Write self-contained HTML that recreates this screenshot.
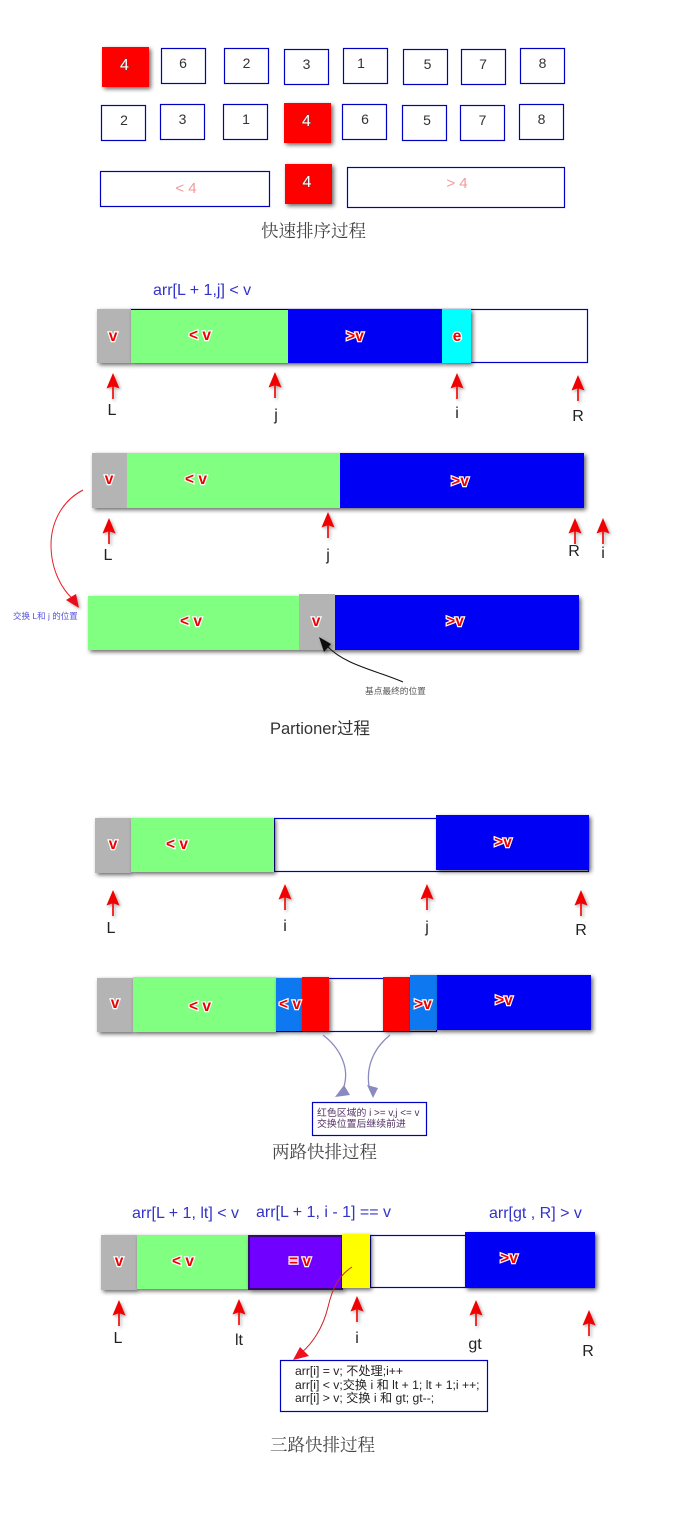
<!DOCTYPE html>
<html><head><meta charset="utf-8">
<style>
html,body{margin:0;padding:0;background:#fff}
svg{display:block}
text{font-family:"Liberation Sans","Noto Sans CJK SC",sans-serif}
.n{font-size:14px;fill:#333;text-anchor:middle}
.w{font-size:16px;fill:#fff;stroke:#8a3030;stroke-width:1.400px;paint-order:stroke;text-anchor:middle}
.s{font-size:15px;fill:#f09a9a;text-anchor:middle}
.t{font-family:"Noto Serif CJK SC","Liberation Serif",serif;font-size:17.500px;fill:#444}
.f{font-size:16px;fill:#3333cc}
.l{font-size:16px;fill:#222;text-anchor:middle}
.o{font-size:15.500px;fill:#e00;stroke:#fff;stroke-width:2.400px;paint-order:stroke;text-anchor:middle;font-weight:bold}
.b{fill:#fff;stroke:#0000c0;stroke-width:1.200}
.c{font-size:12.200px;fill:#222}
</style></head>
<body>
<svg width="675" height="1513" viewBox="0 0 675 1513" xmlns="http://www.w3.org/2000/svg">
<defs>
<filter id="sh" x="-20%" y="-20%" width="150%" height="150%"><feDropShadow dx="2" dy="2" stdDeviation="2" flood-color="#000" flood-opacity=".6"/></filter>
<filter id="as" x="-100%" y="-50%" width="300%" height="200%"><feDropShadow dx="1.500" dy="1.500" stdDeviation="1.500" flood-color="#000" flood-opacity=".35"/></filter>
<g id="up" filter="url(#as)"><path d="M0 0L6.500 15.500L.8 13.500L.8 26L-.8 26L-.8 13.500L-6.500 15.500Z" fill="#f00000"/></g>
</defs>

<!-- Quick sort -->
<rect x="102" y="47" width="47" height="40" fill="#f00" filter="url(#sh)"/><text class="w" x="124.500" y="70">4</text>
<rect class="b" x="161.500" y="48.500" width="44" height="35"/><text class="n" x="183" y="68">6</text>
<rect class="b" x="224.500" y="48.500" width="44" height="35"/><text class="n" x="246.500" y="68">2</text>
<rect class="b" x="284.500" y="49.500" width="44" height="35"/><text class="n" x="306.500" y="69">3</text>
<rect class="b" x="343.500" y="48.500" width="44" height="35"/><text class="n" x="361" y="68">1</text>
<rect class="b" x="403.500" y="49.500" width="44" height="35"/><text class="n" x="427.500" y="69">5</text>
<rect class="b" x="461.500" y="49.500" width="44" height="35"/><text class="n" x="483" y="69">7</text>
<rect class="b" x="520.500" y="48.500" width="44" height="35"/><text class="n" x="542.500" y="68">8</text>

<rect class="b" x="101.500" y="105.500" width="44" height="35"/><text class="n" x="124" y="125">2</text>
<rect class="b" x="160.500" y="104.500" width="44" height="35"/><text class="n" x="182.500" y="124">3</text>
<rect class="b" x="223.500" y="104.500" width="44" height="35"/><text class="n" x="246" y="124">1</text>
<rect x="284" y="103" width="47" height="40" fill="#f00" filter="url(#sh)"/><text class="w" x="306.500" y="126">4</text>
<rect class="b" x="342.500" y="104.500" width="44" height="35"/><text class="n" x="365" y="124">6</text>
<rect class="b" x="402.500" y="105.500" width="44" height="35"/><text class="n" x="427" y="125">5</text>
<rect class="b" x="460.500" y="105.500" width="44" height="35"/><text class="n" x="482.500" y="125">7</text>
<rect class="b" x="519.500" y="104.500" width="44" height="35"/><text class="n" x="541.500" y="124">8</text>

<rect class="b" x="100.500" y="171.500" width="169" height="35"/><text class="s" x="186" y="193">&lt; 4</text>
<rect x="285" y="164" width="47" height="40" fill="#f00" filter="url(#sh)"/><text class="w" x="307" y="187">4</text>
<rect class="b" x="347.500" y="167.500" width="217" height="40"/><text class="s" x="457" y="188">&gt; 4</text>
<text class="t" x="261" y="237">快速排序过程</text>

<!-- Partition 1 -->
<text class="f" x="153" y="295">arr[L + 1,j] &lt; v</text>
<rect class="b" x="130.500" y="309.500" width="457" height="53"/>
<rect x="97" y="309" width="34" height="54" fill="#b4b4b4" filter="url(#sh)"/>
<rect x="131" y="309" width="311" height="54" fill="#000" filter="url(#sh)"/>
<rect x="131" y="310" width="157" height="53" fill="#80ff80"/>
<rect x="288" y="309" width="154" height="54" fill="#0000f4"/>
<rect x="442" y="309" width="29" height="54" fill="#00ffff" filter="url(#sh)"/>
<text class="o" x="113" y="341">v</text><text class="o" x="200" y="340">&lt; v</text><text class="o" x="355" y="341">&gt;v</text><text class="o" x="457" y="341">e</text>
<use href="#up" x="113" y="373"/><use href="#up" x="275" y="372"/><use href="#up" x="457" y="373"/><use href="#up" x="578" y="375"/>
<text class="l" x="112" y="415">L</text><text class="l" x="276" y="420">j</text><text class="l" x="457" y="418">i</text><text class="l" x="578" y="421">R</text>

<!-- Partition 2 -->
<rect x="92" y="453" width="492" height="55" fill="#000" filter="url(#sh)"/>
<rect x="92" y="453" width="35" height="55" fill="#b4b4b4"/>
<rect x="127" y="453" width="213" height="55" fill="#80ff80"/>
<rect x="340" y="453" width="244" height="55" fill="#0000f4"/>
<text class="o" x="109" y="484">v</text><text class="o" x="196" y="484">&lt; v</text><text class="o" x="460" y="486">&gt;v</text>
<use href="#up" x="109" y="518"/><use href="#up" x="328" y="512"/><use href="#up" x="575" y="518"/><use href="#up" x="603" y="518"/>
<text class="l" x="108" y="560">L</text><text class="l" x="328" y="560">j</text><text class="l" x="574" y="556">R</text><text class="l" x="603" y="558">i</text>

<!-- Partition 3 -->
<rect x="88" y="596" width="491" height="54" fill="#000" filter="url(#sh)"/>
<rect x="88" y="596" width="211" height="54" fill="#80ff80"/>
<rect x="299" y="594" width="36" height="56" fill="#b4b4b4"/>
<rect x="335" y="595" width="244" height="55" fill="#0000f4"/>
<text class="o" x="191" y="626">&lt; v</text><text class="o" x="316" y="626">v</text><text class="o" x="455" y="626">&gt;v</text>

<path d="M83 490C60 502 51 525 51 545C51 570 62 590 74 600" fill="none" stroke="#e8202a" stroke-width="1"/>
<path d="M79 608L66 600L76 594Z" fill="#e8101a" filter="url(#as)"/>
<text x="13" y="619" style="font-size:8.500px;fill:#5555dd">交换 L和 j 的位置</text>
<path d="M403 682C375 670 345 665 327 646" fill="none" stroke="#111" stroke-width="1"/>
<path d="M319 637L331 644L324 652Z" fill="#111" filter="url(#as)"/>
<text x="365" y="694" style="font-size:8.700px;fill:#555">基点最终的位置</text>
<text x="270" y="734" style="font-size:16.500px;fill:#333">Partioner过程</text>

<!-- Two-way 1 -->
<rect class="b" x="274.500" y="818.500" width="314" height="53"/>
<rect x="95" y="818" width="36" height="55" fill="#b4b4b4" filter="url(#sh)"/>
<rect x="131" y="818" width="143" height="54" fill="#80ff80" filter="url(#sh)"/>
<rect x="436" y="815" width="153" height="55" fill="#0000f4" filter="url(#sh)"/>
<text class="o" x="113" y="849">v</text><text class="o" x="177" y="849">&lt; v</text><text class="o" x="503" y="847">&gt;v</text>
<use href="#up" x="113" y="890"/><use href="#up" x="285" y="884"/><use href="#up" x="427" y="884"/><use href="#up" x="581" y="890"/>
<text class="l" x="111" y="933">L</text><text class="l" x="285" y="931">i</text><text class="l" x="427" y="932">j</text><text class="l" x="581" y="935">R</text>

<!-- Two-way 2 -->
<rect class="b" x="276.500" y="978.500" width="160" height="53"/>
<rect x="97" y="978" width="36" height="54" fill="#b4b4b4" filter="url(#sh)"/>
<rect x="133" y="977" width="143" height="55" fill="#80ff80" filter="url(#sh)"/>
<rect x="276" y="978" width="26" height="53" fill="#0a78f0" filter="url(#sh)"/>
<rect x="302" y="977" width="27" height="54" fill="#f00" filter="url(#sh)"/>
<rect x="383" y="977" width="27" height="54" fill="#f00" filter="url(#sh)"/>
<rect x="410" y="975" width="27" height="55" fill="#0a78f0" filter="url(#sh)"/>
<rect x="437" y="975" width="154" height="55" fill="#0000f4" filter="url(#sh)"/>
<text class="o" x="115" y="1008">v</text><text class="o" x="200" y="1011">&lt; v</text><text class="o" x="290" y="1009">&lt; v</text><text class="o" x="423" y="1009">&gt;v</text><text class="o" x="504" y="1005">&gt;v</text>
<path d="M323 1035C340 1048 348 1066 345 1082C344 1088 343 1091 342 1094" fill="none" stroke="#8a8abe" stroke-width="1.300"/>
<path d="M335 1097L350 1095L344 1085Z" fill="#8a8abe"/>
<path d="M390 1035C374 1048 366 1066 369 1086" fill="none" stroke="#8a8abe" stroke-width="1.300"/>
<path d="M373 1098L367 1085L378 1088Z" fill="#8a8abe"/>
<rect class="b" x="312.500" y="1102.500" width="114" height="33"/>
<text x="317" y="1116" style="font-size:9.900px;fill:#553366">红色区域的 i &gt;= v,j &lt;= v</text>
<text x="317" y="1127" style="font-size:9.900px;fill:#553366">交换位置后继续前进</text>
<text class="t" x="272" y="1158">两路快排过程</text>

<!-- Three-way -->
<text class="f" x="132" y="1218">arr[L + 1, lt] &lt; v</text>
<text class="f" x="256" y="1217">arr[L + 1, i - 1] == v</text>
<text class="f" x="489" y="1218">arr[gt , R] &gt; v</text>
<rect class="b" x="370.500" y="1235.500" width="224" height="52"/>
<rect x="101" y="1235" width="36" height="55" fill="#b4b4b4" filter="url(#sh)"/>
<rect x="137" y="1235" width="111" height="54" fill="#80ff80" filter="url(#sh)"/>
<rect x="249" y="1236" width="93" height="53" fill="#7000ff" stroke="#330a66" stroke-width="2" filter="url(#sh)"/>
<rect x="342" y="1234" width="28" height="54" fill="#ffff00" filter="url(#sh)"/>
<rect x="465" y="1232" width="130" height="56" fill="#0000f4" filter="url(#sh)"/>
<text class="o" x="119" y="1266">v</text><text class="o" x="183" y="1266">&lt; v</text><text class="o" x="300" y="1266">= v</text><text class="o" x="509" y="1263">&gt;v</text>
<use href="#up" x="119" y="1300"/><use href="#up" x="239" y="1299"/><use href="#up" x="357" y="1296"/><use href="#up" x="476" y="1300"/><use href="#up" x="589" y="1310"/>
<text class="l" x="118" y="1343">L</text><text class="l" x="239" y="1345">lt</text><text class="l" x="357" y="1343">i</text><text class="l" x="475" y="1349">gt</text><text class="l" x="588" y="1356">R</text>
<rect class="b" x="280.500" y="1360.500" width="207" height="51"/>
<path d="M352 1267C338 1276 332 1290 328 1307C323 1328 312 1344 301 1353" fill="none" stroke="#d0202a" stroke-width="1"/>
<path d="M293 1360L300 1347L309 1356Z" fill="#f01020"/>
<text class="c" x="295" y="1375">arr[i] = v; 不处理;i++</text>
<text class="c" x="295" y="1389">arr[i] &lt; v;交换 i 和 lt + 1; lt + 1;i ++;</text>
<text class="c" x="295" y="1402">arr[i] &gt; v; 交换 i 和 gt; gt--;</text>
<text class="t" x="270" y="1451">三路快排过程</text>
</svg>
</body></html>
